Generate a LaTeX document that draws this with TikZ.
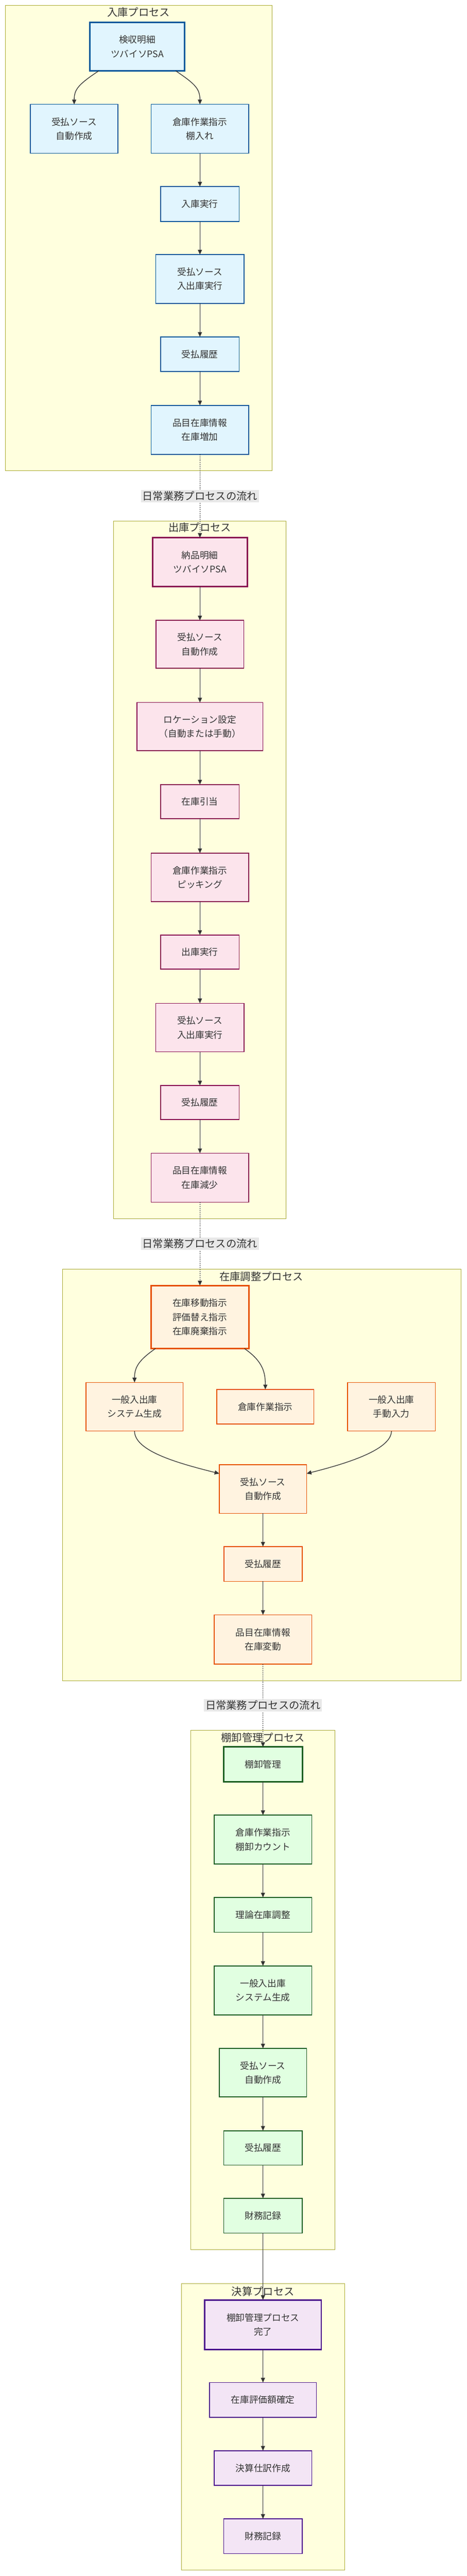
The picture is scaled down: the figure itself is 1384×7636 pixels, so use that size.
\documentclass[tikz,border=0pt]{standalone}
\usepackage{fontspec}
\setmainfont{Noto Sans CJK JP}
\usetikzlibrary{arrows.meta,calc}
\definecolor{clf}{HTML}{FFFFDE}\definecolor{cld}{HTML}{AAAA33}
\definecolor{bf}{HTML}{E1F5FE}\definecolor{bd}{HTML}{01579B}
\definecolor{pf}{HTML}{FCE4EC}\definecolor{pd}{HTML}{880E4F}
\definecolor{of}{HTML}{FFF3E0}\definecolor{od}{HTML}{E65100}
\definecolor{gf}{HTML}{E1FFE1}\definecolor{gd}{HTML}{1B5E20}
\definecolor{vf}{HTML}{F3E5F5}\definecolor{vd}{HTML}{4A148C}
\definecolor{tx}{HTML}{333333}\definecolor{lb}{HTML}{E8E8E8}
\begin{document}
\begin{tikzpicture}[x=1pt,y=-1pt,
  box/.style={draw,line width=2.5pt,inner sep=0pt,outer sep=0pt,align=center,text=tx,font=\fontsize{27}{42}\selectfont},
  thk/.style={line width=4.5pt},
  wh/.style 2 args={minimum width=#1,minimum height=#2},
  bl/.style={box,fill=bf,draw=bd}, pk/.style={box,fill=pf,draw=pd},
  or/.style={box,fill=of,draw=od}, gr/.style={box,fill=gf,draw=gd},
  pu/.style={box,fill=vf,draw=vd},
  cl/.style={draw=cld,fill=clf,line width=1.5pt},
  ttl/.style={text=tx,font=\fontsize{31}{36}\selectfont,inner sep=0pt},
  lab/.style={fill=lb,text=tx,font=\fontsize{31}{36}\selectfont,inner sep=4pt},
  ar/.style={draw=tx,line width=2pt,-{Triangle[length=14pt,width=12pt]}},
  dar/.style={ar,dash pattern=on 3pt off 3pt}]
\useasboundingbox (0,0) rectangle (1384,7636);
\fill[white] (0,0) rectangle (1384,7636);
% clusters
\draw[cl] (16,16) rectangle (807,1395);
\draw[cl] (337,1544) rectangle (849,3613);
\draw[cl] (185,3762) rectangle (1368,4983);
\draw[cl] (566,5129) rectangle (994,6669);
\draw[cl] (538,6769) rectangle (1022,7619);
\node[ttl] (t1) at (411,37) {入庫プロセス};
\node[ttl] (t2) at (593,1564) {出庫プロセス};
\node[ttl] (t3) at (775,3784) {在庫調整プロセス};
\node[ttl] (t4) at (780,5151) {棚卸管理プロセス};
\node[ttl] (t5) at (780,6792) {決算プロセス};
% inbound
\node[bl,thk,wh={280}{144}] (n1) at (407,138) {検収明細\\ツバイソPSA};
\node[bl,wh={260}{145}] (n2) at (220,382) {受払ソース\\自動作成};
\node[bl,wh={289}{145}] (n3) at (593,382) {倉庫作業指示\\棚入れ};
\node[bl,wh={233}{104}] (n4) at (593,605) {入庫実行};
\node[bl,wh={262}{145}] (n5) at (593,827) {受払ソース\\入出庫実行};
\node[bl,wh={233}{103}] (n6) at (593,1050) {受払履歴};
\node[bl,wh={289}{145}] (n7) at (593,1274) {品目在庫情報\\在庫増加};
% outbound
\node[pk,thk,wh={281}{144}] (m1) at (593,1666) {納品明細\\ツバイソPSA};
\node[pk,wh={260}{142}] (m2) at (593,1910) {受払ソース\\自動作成};
\node[pk,wh={373}{143}] (m3) at (593,2154) {ロケーション設定\\（自動または手動）};
\node[pk,wh={233}{101}] (m4) at (593,2376) {在庫引当};
\node[pk,wh={289}{144}] (m5) at (593,2601) {倉庫作業指示\\ピッキング};
\node[pk,wh={233}{101}] (m6) at (593,2822) {出庫実行};
\node[pk,wh={262}{144}] (m7) at (593,3046) {受払ソース\\入出庫実行};
\node[pk,wh={233}{101}] (m8) at (593,3268) {受払履歴};
\node[pk,wh={289}{145}] (m9) at (593,3491) {品目在庫情報\\在庫減少};
% adjust
\node[or,thk,wh={290}{187}] (a1) at (593,3904) {在庫移動指示\\評価替え指示\\在庫廃棄指示};
\node[or,wh={288}{144}] (a2) at (399,4170) {一般入出庫\\システム生成};
\node[or,wh={288}{103}] (a3) at (787,4170) {倉庫作業指示};
\node[or,wh={260}{144}] (a4) at (1161,4170) {一般入出庫\\手動入力};
\node[or,wh={259}{144}] (a5) at (780,4414) {受払ソース\\自動作成};
\node[or,wh={232}{103}] (a6) at (780,4636) {受払履歴};
\node[or,wh={289}{146}] (a7) at (780,4860) {品目在庫情報\\在庫変動};
% stocktake
\node[gr,thk,wh={233}{103}] (b1) at (780,5230) {棚卸管理};
\node[gr,wh={289}{145}] (b2) at (780,5453) {倉庫作業指示\\棚卸カウント};
\node[gr,wh={289}{103}] (b3) at (780,5676) {理論在庫調整};
\node[gr,wh={289}{145}] (b4) at (780,5900) {一般入出庫\\システム生成};
\node[gr,wh={259}{144}] (b5) at (780,6144) {受払ソース\\自動作成};
\node[gr,wh={233}{102}] (b6) at (780,6367) {受払履歴};
\node[gr,wh={233}{103}] (b7) at (780,6568) {財務記録};
% closing
\node[pu,thk,wh={346}{147}] (c1) at (780,6891) {棚卸管理プロセス\\完了};
\node[pu,wh={317}{103}] (c2) at (780,7114) {在庫評価額確定};
\node[pu,wh={289}{103}] (c3) at (780,7316) {決算仕訳作成};
\node[pu,wh={233}{103}] (c4) at (780,7518) {財務記録};
% edges
\draw[ar] ($(n1.south)+(-114,0)$) .. controls +(-60,40) and +(0,-45) .. (n2.north);
\draw[ar] ($(n1.south)+(114,0)$) .. controls +(60,40) and +(0,-45) .. (n3.north);
\foreach \a/\b in {n3/n4,n4/n5,n5/n6,n6/n7,m1/m2,m2/m3,m3/m4,m4/m5,m5/m6,m6/m7,m7/m8,m8/m9,
  a5/a6,a6/a7,b1/b2,b2/b3,b3/b4,b4/b5,b5/b6,b6/b7,b7/c1,c1/c2,c2/c3,c3/c4}
  \draw[ar] (\a) -- (\b);
\draw[ar] ($(a1.south)+(-132,0)$) .. controls +(-50,35) and +(0,-45) .. (a2.north);
\draw[ar] ($(a1.south)+(132,0)$) .. controls +(55,38) and +(0,-50) .. (a3.north);
\draw[ar] (a2.south) .. controls +(0,60) and +(-120,-30) .. ($(a5.north west)+(0,26)$);
\draw[ar] (a4.south) .. controls +(0,55) and +(120,-30) .. ($(a5.north east)+(0,26)$);
\draw[dar] (n7) -- (m1);
\draw[dar] (m9) -- (a1);
\draw[dar] (a7) -- (b1);
\node[lab] (l1) at (593,1470) {日常業務プロセスの流れ};
\node[lab] (l2) at (593,3687) {日常業務プロセスの流れ};
\node[lab] (l3) at (780,5055) {日常業務プロセスの流れ};
\end{tikzpicture}
\end{document}
